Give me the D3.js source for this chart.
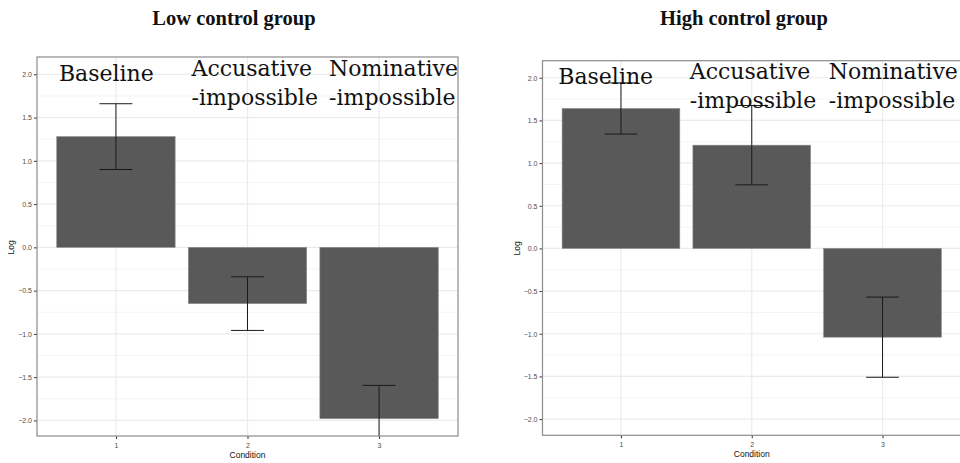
<!DOCTYPE html>
<html>
<head>
<meta charset="utf-8">
<script src="https://cdn.jsdelivr.net/npm/d3@7"></script>
<style>
	body { margin: 0; background: #fff; }
	svg { display: block; }
</style>
</head>
<body>
<div id="chart"></div>
<script>
// data
var conditions = ["1", "2", "3"];
var conditionNames = [["Baseline"], ["Accusative", "-impossible"], ["Nominative", "-impossible"]];
var lowMeans = [1.28, -0.65, -1.98];
var lowErrors = [0.38, 0.31, 0.385];
var highMeans = [1.64, 1.21, -1.04];
var highErrors = [0.30, 0.465, 0.47];
var yTicks = [-2, -1.5, -1, -0.5, 0, 0.5, 1, 1.5, 2];
var yMinorTicks = [-1.75, -1.25, -0.75, -0.25, 0.25, 0.75, 1.25, 1.75];
var panelTitles = ["Low control group", "High control group"];

var width = 960, height = 463;

var svg = d3.select("#chart").append("svg")
	.attr("width", width)
	.attr("height", height);

// layout of each panel (pixels)
var panels = [
	{ id: "low", title: panelTitles[0], means: lowMeans, errors: lowErrors,
	  left: 37, right: 458, top: 57, bottom: 436, domain: [-2.18, 2.2], titleX: 234,
	  labelDx: [-57, -56, -50], labelDy: [23.7, 19, 19] },
	{ id: "high", title: panelTitles[1], means: highMeans, errors: highErrors,
	  left: 542.5, right: 961, top: 60.7, bottom: 435.3, domain: [-2.19, 2.2], titleX: 744,
	  labelDx: [-62.7, -62, -53.7], labelDy: [23.6, 18.6, 18.6] }
];

panels.forEach(function(p) {
	drawPanel(p);
});

function drawPanel(p) {
	// ggplot-like discrete axis: centres at 0.6 + i steps, bars 0.9 of a step
	var step = (p.right - p.left) / (conditions.length + 0.2);
	var x = d3.scalePoint()
		.domain(conditions)
		.range([p.left + 0.6 * step, p.right - 0.6 * step]);
	var barW = step * 0.9;
	var capW = step * 0.25;

	var y = d3.scaleLinear()
		.domain(p.domain)
		.range([p.bottom, p.top]);

	var g = svg.append("g").attr("class", "panel-" + p.id);

	// title
	svg.append("text")
		.attr("x", p.titleX)
		.attr("y", 25)
		.attr("text-anchor", "middle")
		.style("font-family", "'Liberation Serif', serif")
		.style("font-weight", "bold")
		.style("font-size", "20.5px")
		.style("fill", "#111")
		.text(p.title);

	g.append("rect")
		.attr("x", p.left).attr("y", p.top)
		.attr("width", p.right - p.left).attr("height", p.bottom - p.top)
		.attr("fill", "#fff");

	// grid
	g.selectAll(".minor").data(yMinorTicks).enter().append("line")
		.attr("x1", p.left).attr("x2", p.right)
		.attr("y1", d => y(d)).attr("y2", d => y(d))
		.attr("stroke", "#f4f4f4").attr("stroke-width", 1);
	g.selectAll(".major").data(yTicks).enter().append("line")
		.attr("x1", p.left).attr("x2", p.right)
		.attr("y1", d => y(d)).attr("y2", d => y(d))
		.attr("stroke", "#ebebeb").attr("stroke-width", 1.2);
	g.selectAll(".vmajor").data(conditions).enter().append("line")
		.attr("x1", d => x(d)).attr("x2", d => x(d))
		.attr("y1", p.top).attr("y2", p.bottom)
		.attr("stroke", "#ebebeb").attr("stroke-width", 1.2);

	g.append("clipPath").attr("id", "clip-" + p.id)
		.append("rect")
		.attr("x", p.left).attr("y", p.top)
		.attr("width", p.right - p.left).attr("height", p.bottom - p.top);

	var plot = g.append("g").attr("clip-path", "url(#clip-" + p.id + ")");

	var rows = conditions.map(function(c, i) {
		return { c: c, m: p.means[i], e: p.errors[i] };
	});

	plot.selectAll(".bar").data(rows).enter().append("rect")
		.attr("x", d => x(d.c) - barW / 2)
		.attr("width", barW)
		.attr("y", d => y(Math.max(0, d.m)))
		.attr("height", d => Math.abs(y(d.m) - y(0)))
		.attr("fill", "#595959")
		.attr("stroke", "#8a8a8a")
		.attr("stroke-width", 0.6);

	var eb = plot.selectAll(".err").data(rows).enter().append("g")
		.attr("stroke", "#1a1a1a").attr("stroke-width", 1).attr("fill", "none");
	eb.append("line")
		.attr("x1", d => x(d.c)).attr("x2", d => x(d.c))
		.attr("y1", d => y(d.m + d.e)).attr("y2", d => y(d.m - d.e));
	eb.append("line")
		.attr("x1", d => x(d.c) - capW / 2).attr("x2", d => x(d.c) + capW / 2)
		.attr("y1", d => y(d.m + d.e)).attr("y2", d => y(d.m + d.e));
	eb.append("line")
		.attr("x1", d => x(d.c) - capW / 2).attr("x2", d => x(d.c) + capW / 2)
		.attr("y1", d => y(d.m - d.e)).attr("y2", d => y(d.m - d.e));

	// axes
	var yAxis = d3.axisLeft(y).tickValues(yTicks).tickSize(3).tickPadding(2)
		.tickFormat(d3.format(".1f"));
	var yg = g.append("g").attr("transform", "translate(" + p.left + ",0)").call(yAxis);
	yg.select(".domain").remove();
	yg.selectAll(".tick line").attr("stroke", "#333");
	yg.selectAll(".tick text")
		.style("font-family", "'Liberation Sans', Arial, sans-serif")
		.style("font-size", "7px").attr("fill", "#4d4d4d");

	var xAxis = d3.axisBottom(x).tickSize(3).tickPadding(4);
	var xg = g.append("g").attr("transform", "translate(0," + p.bottom + ")").call(xAxis);
	xg.select(".domain").remove();
	xg.selectAll(".tick line").attr("stroke", "#333");
	xg.selectAll(".tick text")
		.style("font-family", "'Liberation Sans', Arial, sans-serif")
		.style("font-size", "7px").attr("fill", "#4d4d4d");

	// border
	g.append("rect")
		.attr("x", p.left).attr("y", p.top)
		.attr("width", p.right - p.left).attr("height", p.bottom - p.top)
		.attr("fill", "none").attr("stroke", "#8c8c8c").attr("stroke-width", 1.2);

	svg.append("text")
		.attr("transform", "translate(" + (p.left - 23) + "," + y(0) + ") rotate(-90)")
		.attr("text-anchor", "middle")
		.style("font-family", "'Liberation Sans', Arial, sans-serif")
		.style("font-size", "8.5px").attr("fill", "#111")
		.text("Log");

	svg.append("text")
		.attr("x", x(conditions[1]))
		.attr("y", p.bottom + 22)
		.attr("text-anchor", "middle")
		.style("font-family", "'Liberation Sans', Arial, sans-serif")
		.style("font-size", "8.5px").attr("fill", "#111")
		.text("Condition");

	// condition name annotations
	conditionNames.forEach(function(lines, i) {
		var t = svg.append("text")
			.attr("x", x(conditions[i]) + p.labelDx[i])
			.attr("y", p.top + p.labelDy[i])
			.style("font-family", "'DejaVu Serif', serif")
			.style("font-size", "22px")
			.attr("fill", "#111");
		lines.forEach(function(s, j) {
			t.append("tspan")
				.attr("x", x(conditions[i]) + p.labelDx[i])
				.attr("dy", j === 0 ? 0 : 29)
				.text(s);
		});
	});
}
</script>
</body>
</html>
